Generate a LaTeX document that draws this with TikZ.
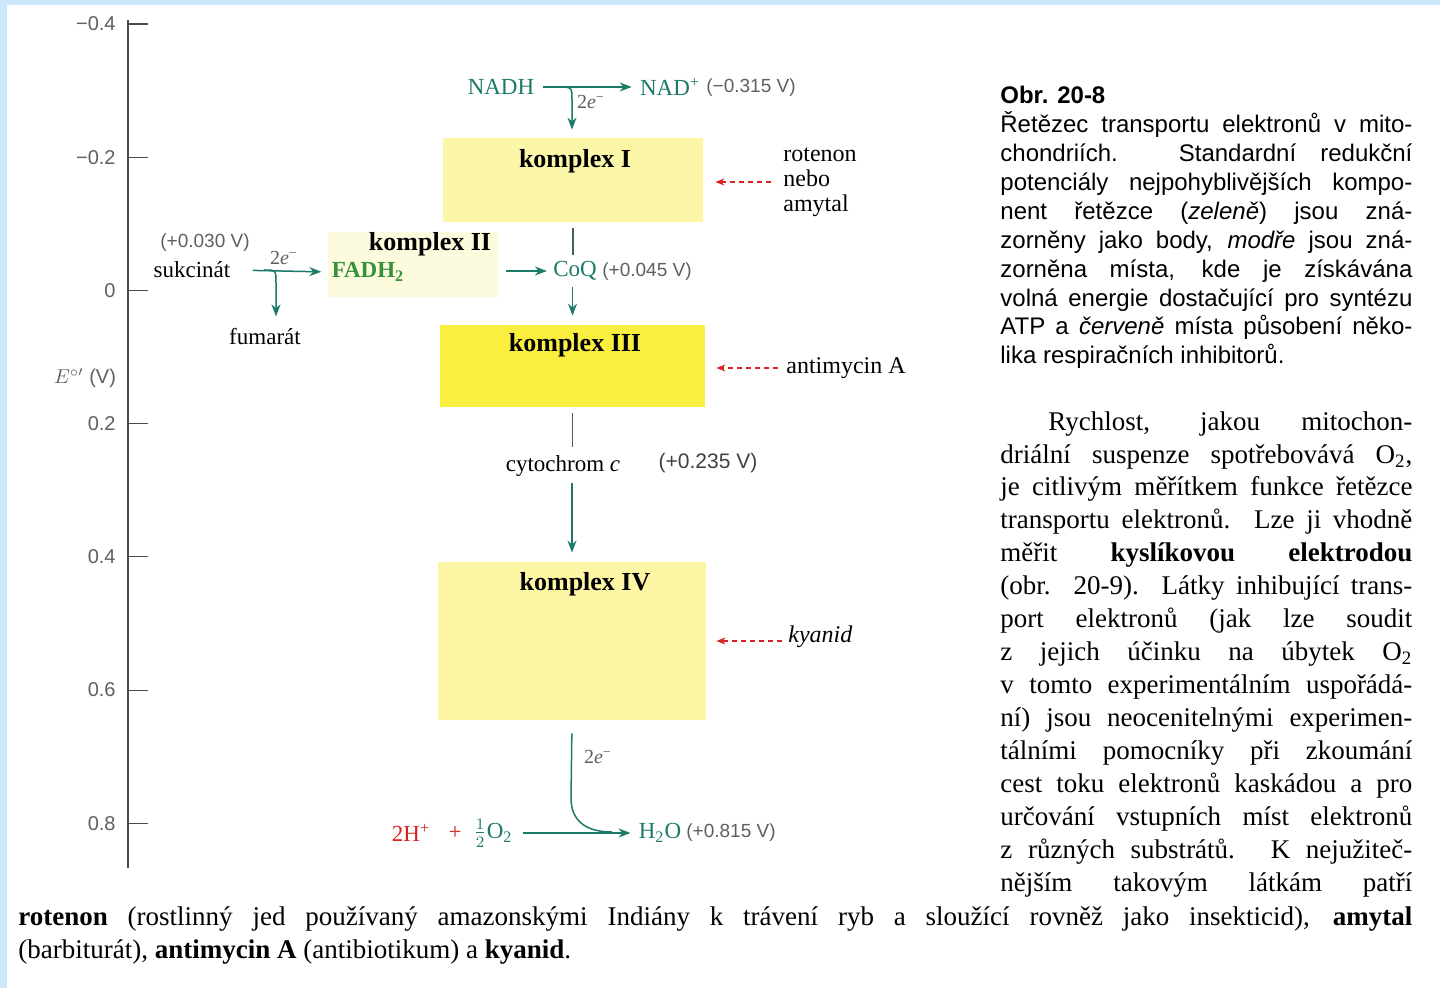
\documentclass[tikz,border=0pt]{standalone}
\usepackage{fontspec}
\setmainfont{Liberation Serif}
\setsansfont{Liberation Sans}
\usetikzlibrary{arrows.meta}
\definecolor{tealc}{RGB}{28,122,104}
\definecolor{greenc}{RGB}{55,145,60}
\definecolor{redc}{RGB}{215,35,35}
\definecolor{grayc}{RGB}{95,95,95}
\definecolor{linec}{RGB}{70,95,95}
\definecolor{frameblue}{RGB}{204,232,250}
\definecolor{yA}{RGB}{252,246,168}
\definecolor{yB}{RGB}{253,251,222}
\definecolor{yC}{RGB}{250,238,62}
\definecolor{yD}{RGB}{252,246,165}
\begin{document}
\begin{tikzpicture}[x=0.5pt,y=-0.5pt,
 every node/.style={inner sep=1pt},
 cbox/.style={fill=#1, draw=none, inner sep=0pt},
 clabel/.style={font=\fontsize{13}{15}\selectfont\bfseries},
 chem/.style={font=\fontsize{11.5}{13}\selectfont},
 volt/.style={font=\sffamily\fontsize{9.5}{11}\selectfont, text=grayc},
 axlab/.style={font=\sffamily\fontsize{10}{12}\selectfont, text=grayc, anchor=east},
 inhtext/.style={font=\fontsize{12}{12.5}\selectfont, anchor=west, align=left},
 arr/.style={draw=tealc, line width=0.75pt, -{Stealth[length=6pt,width=4.5pt]}},
 tline/.style={draw=tealc, line width=0.75pt},
 plain/.style={draw=linec, line width=0.6pt},
 inh/.style={draw=redc, line width=0.7pt, dash pattern=on 2.5pt off 2pt, -{Stealth[length=4.5pt,width=3.5pt]}},
 ee/.style={font=\fontsize{10}{12}\selectfont, text=grayc},
 axis/.style={draw=grayc!80!black, line width=0.6pt},
]
\useasboundingbox (0,0) rectangle (1440,988);
\fill[white] (0,0) rectangle (1440,988);
\fill[frameblue] (0,0) rectangle (7,988);
\fill[frameblue] (0,0) rectangle (1440,5);

% axis
\draw[axis] (128,20) -- (128,868);
\foreach \v/\t in {-0.4/−0.4,-0.2/−0.2,0/0,0.2/0.2,0.4/0.4,0.6/0.6,0.8/0.8}{
  \draw[axis] (128,290.5+666*\v) -- (148,290.5+666*\v);
  \node[axlab] at (118,290.5+666*\v) {\t};
}
\node[font=\sffamily\fontsize{10}{12}\selectfont, text=grayc] (eaxis) at (85,378) {$E^{\circ\prime}$ (V)};

% boxes
\node[cbox=yB, minimum width=85pt, minimum height=32.5pt] (kII) at (413,264.5) {};
\node[cbox=yA, minimum width=130pt, minimum height=42pt] (kI) at (573,180) {};
\node[cbox=yC, minimum width=132.5pt, minimum height=41pt] (kIII) at (572.5,366) {};
\node[cbox=yD, minimum width=134pt, minimum height=79pt] (kIV) at (572,641) {};
\node[clabel] (lI) at (575,161) {komplex I};
\node[clabel] (lII) at (430,244) {komplex II};
\node[clabel] (lIII) at (575,345) {komplex III};
\node[clabel] (lIV) at (585,584) {komplex IV};

% NADH
\node[chem, text=tealc] (nadh) at (501,87) {NADH};
\node[chem, text=tealc] (nadp) at (670,87) {NAD\textsuperscript{+}};
\node[volt, anchor=west] (v1) at (704,88) {(−0.315 V)};
\draw[arr, shorten <=3pt, shorten >=3pt] (nadh.east) -- (nadp.west);
\coordinate (nb) at (558,87);
\coordinate (nb2) at (572,100);
\draw[arr, shorten >=4pt] (nb) .. controls (572,87) .. (nb2) -- (nb2 |- kI.north);
\node[ee] (e1) at (591,102) {2\textit{e}\textsuperscript{−}};

% inhibitors
\node[inhtext] (rot) at (781,182) {rotenon\\nebo\\amytal};
\draw[inh, shorten <=5pt, shorten >=6pt] (rot.west) -- (kI.east |- rot.west);
\node[inhtext] (anti) at (784,368) {antimycin A};
\draw[inh, shorten <=3pt, shorten >=5.5pt] (anti.west) -- (kIII.east |- anti.west);
\node[inhtext, font=\itshape\fontsize{12}{12.5}\selectfont] (kya) at (786,637) {kyanid};
\draw[inh, shorten <=2pt, shorten >=5pt] (kya.west |- kIV.east) -- (kIV.east);

% succinate
\node[volt] (v2) at (205,243) {(+0.030 V)};
\node[chem] (suk) at (192,270) {sukcinát};
\node[chem, text=greenc, font=\fontsize{11.5}{13}\selectfont\bfseries] (fadh) at (368,272) {FADH\textsubscript{2}};
\draw[arr, shorten <=10pt, shorten >=4pt] (suk.east) -- (fadh.west);
\node[ee] (e2) at (284,258) {2\textit{e}\textsuperscript{−}};
\node[chem] (fum) at (265,337) {fumarát};
\coordinate (sb) at (264,270);
\coordinate (sb2) at (276,283);
\draw[arr, shorten >=5pt] (sb) .. controls (276,270) .. (sb2) -- (sb2 |- fum.north);

% CoQ
\node[chem, text=tealc] (coq) at (575,271) {CoQ};
\node[volt, anchor=west] (v3) at (600,272) {(+0.045 V)};
\draw[arr, shorten <=4pt, shorten >=2pt] (kII.east |- coq.west) -- (coq.west);
\draw[plain, shorten <=3pt, shorten >=2pt] (kI.south) -- (kI.south |- coq.north);
\draw[arr, shorten <=2pt, shorten >=4.5pt] (kIII.north |- coq.south) -- (kIII.north);

% cytochrom c
\node[chem] (cyt) at (563,466) {cytochrom \textit{c}};
\node[volt, font=\sffamily\fontsize{10.5}{12}\selectfont, text=black!75] (v4) at (708,463) {(+0.235 V)};
\draw[plain, shorten <=3pt, shorten >=3pt] (kIII.south) -- (kIII.south |- cyt.north);
\draw[arr, shorten <=2pt, shorten >=4.5pt] (kIV.north |- cyt.south) -- (kIV.north);

% water
\node[chem, text=redc] (hp) at (411,833) {2H\textsuperscript{+}};
\node[chem, text=redc] (plus) at (455,833) {+};
\node[chem, text=tealc] (o2) at (493,833) {$\frac{1}{2}$O\textsubscript{2}};
\node[chem, text=tealc] (h2o) at (660,833) {H\textsubscript{2}O};
\node[volt, anchor=west] (v5) at (684,833) {(+0.815 V)};
\draw[arr, shorten <=4pt, shorten >=3pt] (o2.east) -- (h2o.west);
\coordinate (bend) at (571,800);
\coordinate (join) at (612,832);
\draw[tline, shorten <=6.5pt] (kIV.south) -- (bend) .. controls (572,824) and (590,832) .. (join);
\node[ee] (e3) at (598,757) {2\textit{e}\textsuperscript{−}};

% caption
\node[anchor=north west, inner sep=0pt, align=left, font=\sffamily\fontsize{12}{14.45}\selectfont] (cap) at (1000,86) {%
\textbf{Obr. 20-8}\\
\makebox[206pt][s]{Řetězec transportu elektronů v mito-}\\
\makebox[206pt][s]{chondriích. Standardní redukční}\\
\makebox[206pt][s]{potenciály nejpohyblivějších kompo-}\\
\makebox[206pt][s]{nent řetězce (\textit{zeleně}) jsou zná-}\\
\makebox[206pt][s]{zorněny jako body, \textit{modře} jsou zná-}\\
\makebox[206pt][s]{zorněna místa, kde je získávána}\\
\makebox[206pt][s]{volná energie dostačující pro syntézu}\\
\makebox[206pt][s]{ATP a \textit{červeně} místa působení něko-}\\
lika respiračních inhibitorů.};

% body
\node[anchor=north west, inner sep=0pt, align=left, font=\fontsize{13.5}{16.46}\selectfont] (body) at (1000,411) {%
\makebox[206pt][s]{\hspace*{24pt}Rychlost, jakou mitochon-}\\
\makebox[206pt][s]{driální suspenze spotřebovává O\textsubscript{2},}\\
\makebox[206pt][s]{je citlivým měřítkem funkce řetězce}\\
\makebox[206pt][s]{transportu elektronů. Lze ji vhodně}\\
\makebox[206pt][s]{měřit \textbf{kyslíkovou elektrodou}}\\
\makebox[206pt][s]{(obr. 20-9). Látky inhibující trans-}\\
\makebox[206pt][s]{port elektronů (jak lze soudit}\\
\makebox[206pt][s]{z jejich účinku na úbytek O\textsubscript{2}}\\
\makebox[206pt][s]{v tomto experimentálním uspořádá-}\\
\makebox[206pt][s]{ní) jsou neocenitelnými experimen-}\\
\makebox[206pt][s]{tálními pomocníky při zkoumání}\\
\makebox[206pt][s]{cest toku elektronů kaskádou a pro}\\
\makebox[206pt][s]{určování vstupních míst elektronů}\\
\makebox[206pt][s]{z různých substrátů. K nejužiteč-}\\
\makebox[206pt][s]{nějším takovým látkám patří}};
\node[anchor=north west, inner sep=0pt, align=left, font=\fontsize{13.5}{16.46}\selectfont] (bottom) at (18,906) {%
\makebox[697pt][s]{\textbf{rotenon} (rostlinný jed používaný amazonskými Indiány k trávení ryb a sloužící rovněž jako insekticid), \textbf{amytal}}\\
(barbiturát), \textbf{antimycin A} (antibiotikum) a \textbf{kyanid}.};
\end{tikzpicture}
\end{document}
